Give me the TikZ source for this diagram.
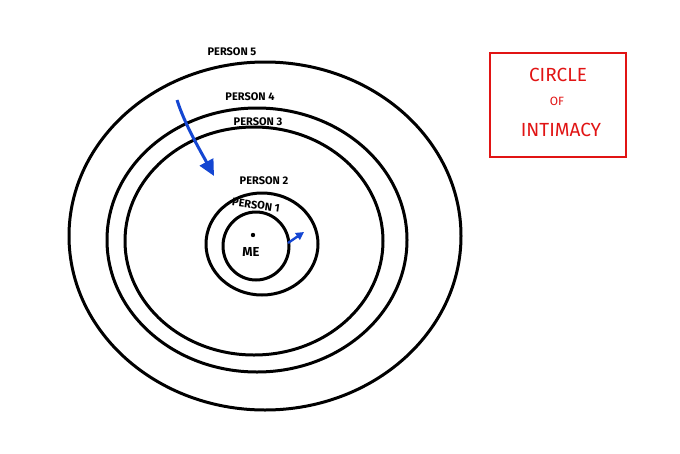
\documentclass[tikz,border=0pt]{standalone}
\usepackage{fontspec}
\setmainfont{Fira Sans}
\usetikzlibrary{arrows.meta}
\definecolor{pblue}{RGB}{20,70,210}
\definecolor{pred}{RGB}{225,20,20}
\tikzset{ring/.style={draw=black,line width=3pt},
lab/.style={font=\fontsize{11}{12}\selectfont\bfseries,inner sep=1pt},
barrow/.style={draw=pblue,line width=3pt,-{Triangle[length=16pt,width=15pt]}}}
\begin{document}
\begin{tikzpicture}[x=1pt,y=-1pt]
\useasboundingbox (0,0) rectangle (680,453);
\draw[ring] (265,236) ellipse [x radius=196,y radius=174];
\draw[ring] (257,240) ellipse [x radius=150,y radius=132];
\draw[ring] (254,241) ellipse [x radius=129,y radius=114];
\draw[ring] (262,244) ellipse [x radius=56,y radius=51];
\draw[ring] (256,246) ellipse [x radius=33,y radius=34];
\fill (253,235) circle (2.2pt);
\node[lab] (p5) at (232,52) {PERSON 5};
\node[lab] (p4) at (250,97) {PERSON 4};
\node[lab] (p3) at (258,122) {PERSON 3};
\node[lab] (p2) at (264,181) {PERSON 2};
\node[lab,rotate=-8] (p1) at (256,205) {PERSON 1};
\node[lab,font=\fontsize{13}{14}\selectfont\bfseries] (me) at (251,252) {ME};
\coordinate (a1) at (177,100);
\coordinate (a2) at (214,176);
\draw[barrow] (a1) .. controls (185,125) and (200,150) .. (a2);
\coordinate (b1) at (288,243);
\coordinate (b2) at (304,232);
\draw[draw=pblue,line width=2.4pt,-{Triangle[length=8pt,width=8pt]}] (b1) -- (b2);
\node[draw=pred,line width=2pt,minimum width=136pt,minimum height=104pt] (box) at (558,105) {};
\node[text=pred,font=\fontsize{19}{20}\selectfont] (t1) at (558,75) {CIRCLE};
\node[text=pred,font=\fontsize{12}{13}\selectfont] (t2) at (557,101) {OF};
\node[text=pred,font=\fontsize{19}{20}\selectfont] (t3) at (561,130) {INTIMACY};
\end{tikzpicture}
\end{document}
